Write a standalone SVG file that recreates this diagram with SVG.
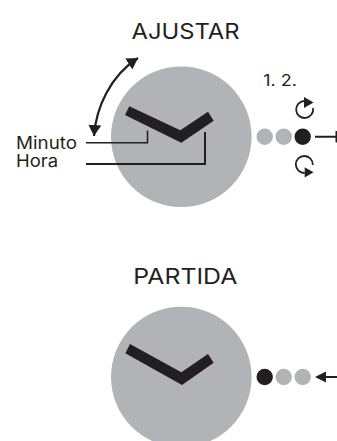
<svg xmlns="http://www.w3.org/2000/svg" width="337" height="441" viewBox="0 0 337 441">
<style>
text{font-family:"Inter","Liberation Sans",sans-serif;fill:#231f20}
.t{font-size:21px}
.l{font-size:17px}
.g{fill:#b1b3b6}
.k{fill:#231f20}
.w{fill:none;stroke:#231f20;stroke-width:2}
</style>
<defs>
<marker id="a" markerUnits="userSpaceOnUse" markerWidth="14" markerHeight="14" refX="11" refY="7" orient="auto-start-reverse"><path d="M0 0.500L11 7L0 13.500Z" fill="#231f20"/></marker>
</defs>
<rect width="337" height="441" fill="#fff"/>
<g id="title-ajustar"><text class="t" x="131.500" y="38.700" textLength="108" lengthAdjust="spacingAndGlyphs">AJUSTAR</text></g>
<g id="clock-ajustar">
<circle class="g" cx="181.300" cy="136.700" r="70.300"/>
<path class="k" d="M129.300 106.300L125 115L181.300 142.700L213.700 120.700L208 111.700L180.300 130.300Z"/>
</g>
<g id="labels"><text class="l" x="16" y="148.500" textLength="61" lengthAdjust="spacingAndGlyphs">Minuto</text><text class="l" x="16" y="166.700" textLength="42" lengthAdjust="spacingAndGlyphs">Hora</text></g>
<g id="steps"><text x="263.300" y="86" font-size="15.500" textLength="33.500" lengthAdjust="spacingAndGlyphs">1. 2.</text></g>
<g id="crown-ajustar">
<circle class="g" cx="264.700" cy="136.700" r="8.200"/>
<circle class="g" cx="283.700" cy="136.700" r="8.200"/>
<circle class="k" cx="302.700" cy="136.700" r="8.200"/>
</g>
<g id="connectors">
<path class="w" style="stroke-width:1.500" d="M86 142.700H147.500V130.500"/>
<path class="w" d="M86 164H205V132"/>
<path class="w" style="stroke-width:2.200" d="M94 136C96 108 110 76 138 58" marker-start="url(#a)" marker-end="url(#a)"/>
<path class="w" d="M315 136.700H337M336.500 131V142.500"/>
<path class="w" style="stroke-width:1.800" d="M304.700 101A8.500 8.500 0 1 0 313 108"/>
<path class="k" d="M304 97L313.500 102.500L304 108Z"/>
<path class="w" style="stroke-width:1.800" d="M312.800 165A8.500 8.500 0 1 0 304.700 173"/>
<path class="k" d="M304.700 167.300L313.500 172.300L304.700 177.500Z"/>
<path class="w" d="M323 377H337"/>
<path class="k" d="M315 377L326 371.500V382.500Z"/>
</g>
<g id="title-partida"><text class="t" x="133.300" y="283.500" textLength="104" lengthAdjust="spacingAndGlyphs">PARTIDA</text></g>
<g id="clock-partida">
<circle class="g" cx="181.300" cy="377" r="70.300"/>
<path class="k" d="M130 344L125.300 353.300L182 385L213.700 362.700L208 354L181.300 372.300Z"/>
</g>
<g id="crown-partida">
<circle class="k" cx="264.700" cy="377" r="8.200"/>
<circle class="g" cx="283.700" cy="377" r="8.200"/>
<circle class="g" cx="302.700" cy="377" r="8.200"/>
</g>
</svg>
